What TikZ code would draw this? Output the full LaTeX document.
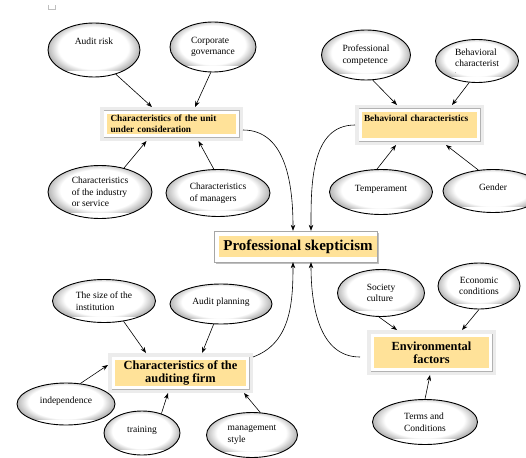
\documentclass[tikz,border=0pt]{standalone}
\usepackage{fontspec}
\setmainfont{Liberation Serif}
\usetikzlibrary{shapes.geometric,arrows.meta,shadows}
\definecolor{boxyellow}{RGB}{255,226,153}
\pgfdeclareradialshading{ovalshade}{\pgfpoint{0bp}{0bp}}{color(0bp)=(white); color(18bp)=(white); color(25bp)=(gray!70); color(50bp)=(gray!70)}

\begin{document}
\begin{tikzpicture}[x=1pt,y=-1pt,
  oval/.style={ellipse, draw, line width=0.9pt, inner sep=0pt, align=left,
    font=\fontsize{9.5}{11.5}\selectfont,
    path picture={\shade[shading=ovalshade]
      ([xshift=-3pt,yshift=6pt]path picture bounding box.south west) rectangle
      ([xshift=2pt,yshift=4pt]path picture bounding box.north east);}},
  frame/.style={rectangle, fill=boxyellow, draw=white, line width=2.5pt,
    inner sep=0pt, outer sep=5.5pt,
    preaction={draw=gray!15, line width=11pt},
    preaction={draw=gray!60, line width=4pt}},
  small/.style={font=\bfseries\fontsize{9.3}{10.5}\selectfont, align=left},
  big/.style={font=\bfseries\fontsize{12.4}{13}\selectfont, align=center},
  arr/.style={-{Stealth[length=6pt,width=4.5pt]}, line width=0.6pt}]
  \useasboundingbox (0,0) rectangle (526,457);
  \draw[gray!50] (48,5) -- (48,9) -- (55,9) -- (55,5);

  % Centre box
  \node[draw=gray!70, fill=white, drop shadow={shadow xshift=1.5pt, shadow yshift=-1.5pt},
    minimum width=163, minimum height=31, inner sep=0pt] (skep) at (295.5,246.5)
    {\hspace{5pt}\setlength{\fboxsep}{4pt}\colorbox{boxyellow}{\bfseries\fontsize{15}{18}\selectfont Professional skepticism}};

  % Unit under consideration
  \node[frame, small, minimum width=132, minimum height=23, text width=122pt] (unit) at (171.5,124)
    {Characteristics of the unit\\under consideration};
  \node[oval, minimum width=92, minimum height=54, text depth=18pt] (risk) at (94,50) {Audit risk};
  \node[oval, minimum width=86, minimum height=50] (corp) at (213,47) {Corporate\\governance};
  \node[oval, minimum width=104, minimum height=53] (ind) at (100,192) {Characteristics\\of the industry\\or service};
  \node[oval, minimum width=104, minimum height=47] (mgr) at (218,193) {Characteristics\\of managers};
  \draw[arr] (risk.-48) -- ([xshift=-19.5pt]unit.north);
  \draw[arr] (corp.-95) -- ([xshift=23.5pt]unit.north);
  \draw[arr] (ind.45) -- ([xshift=-25pt]unit.south);
  \draw[arr] (mgr.100) -- ([xshift=27pt]unit.south);

  % Behavioral characteristics
  \node[frame, small, minimum width=118, minimum height=29, text width=111pt, text depth=14pt] (behav) at (419.5,125)
    {Behavioral characteristics};
  \node[oval, minimum width=89, minimum height=50] (comp) at (366,55) {Professional\\competence};
  \node[oval, minimum width=83, minimum height=43] (bchar) at (477,61) {Behavioral\\characterist\\[-5pt]{\tiny .}};
  \node[oval, minimum width=103, minimum height=45, text depth=8pt] (temp) at (381,192) {Temperament};
  \node[oval, minimum width=100, minimum height=43, text depth=8pt] (gender) at (493,191) {Gender};
  \draw[arr] (comp.-75) -- ([xshift=-22.5pt]behav.north);
  \draw[arr] (bchar.-110) -- ([xshift=32.5pt]behav.north);
  \draw[arr] (temp.100) -- ([xshift=-23.5pt]behav.south);
  \draw[arr] (gender.125) -- ([xshift=26.5pt]behav.south);

  % Auditing firm
  \node[frame, big, minimum width=134, minimum height=29] (firm) at (180.5,373)
    {Characteristics of the\\auditing firm};
  \node[oval, minimum width=103, minimum height=43] (size) at (104,301) {The size of the\\institution};
  \node[oval, minimum width=102, minimum height=40, text depth=6pt] (plan) at (221,304) {Audit planning};
  \node[oval, minimum width=98, minimum height=42, text depth=8pt] (indep) at (66,404) {independence};
  \node[oval, minimum width=76, minimum height=44, text depth=8pt] (train) at (142,433) {training};
  \node[oval, minimum width=91, minimum height=45] (mstyle) at (252,435) {management\\style};
  \draw[arr] (size.-46) -- ([xshift=-34.5pt]firm.north);
  \draw[arr] (plan.-110) -- ([xshift=21.5pt]firm.north);
  \draw[arr] (indep.55) -- ([yshift=8pt]firm.west);
  \draw[arr] (train.45) -- ([xshift=-12.5pt]firm.south);
  \draw[arr] (mstyle.70) -- ([xshift=63.5pt]firm.south);

  % Environmental factors
  \node[frame, big, minimum width=118, minimum height=34] (env) at (431.5,352.5)
    {Environmental\\factors};
  \node[oval, minimum width=87, minimum height=47] (soc) at (381,293) {Society\\culture};
  \node[oval, align=center, minimum width=82, minimum height=46] (econ) at (479,286) {Economic\\conditions};
  \node[oval, minimum width=105, minimum height=45] (terms) at (425,422) {Terms and\\Conditions};
  \draw[arr] (soc.-95) -- ([xshift=-34.5pt]env.north);
  \draw[arr] (econ.-90) -- ([xshift=30.5pt]env.north);
  \draw[arr] (terms.90) -- ([xshift=-1.5pt]env.south);

  % Links to the centre
  \draw[arr] ([yshift=-6pt]unit.east) to[out=0,in=90] ([xshift=-2.5pt]skep.north);
  \draw[arr] (behav.west) to[out=180,in=90] ([xshift=15.5pt]skep.north);
  \draw[arr] ([yshift=16pt]firm.east) to[out=20,in=-90] ([xshift=-2.5pt]skep.south);
  \draw[arr] ([xshift=-7pt,yshift=-4.5pt]env.west) to[out=180,in=-90] ([xshift=15.5pt]skep.south);
\end{tikzpicture}
\end{document}
